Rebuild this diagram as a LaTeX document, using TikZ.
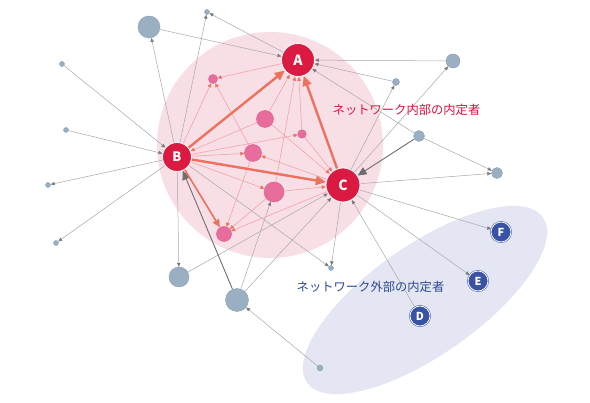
\documentclass[tikz,border=0pt]{standalone}
\usepackage{fontspec}
\setmainfont{Liberation Sans}
\newfontfamily\jp{Noto Sans CJK JP}
\usetikzlibrary{arrows.meta}
\pgfdeclarelayer{bg}
\pgfdeclarelayer{edges}
\pgfsetlayers{bg,edges,main}
\definecolor{redone}{HTML}{DA1A40}
\definecolor{pinkbg}{HTML}{F8DFE6}
\definecolor{bluebg}{HTML}{E4E7F3}
\definecolor{pinknode}{HTML}{E86C9C}
\definecolor{pinkstroke}{HTML}{DA5A8A}
\definecolor{graynode}{HTML}{9AB0C2}
\definecolor{graystroke}{HTML}{879EB2}
\definecolor{bluenode}{HTML}{3853A6}
\definecolor{edgegray}{HTML}{A8A8A8}
\definecolor{tipgray}{HTML}{7A7A7A}
\definecolor{edgepink}{HTML}{F2A3A6}
\definecolor{salmon}{HTML}{EC715F}
\definecolor{darkedge}{HTML}{6E6E6E}
\definecolor{redtext}{HTML}{D4163F}
\definecolor{bluetext}{HTML}{2E4994}
\tikzset{
  rn/.style={circle, fill=redone, draw=white, line width=0.8pt, inner sep=0pt, text=white, font=\jp\bfseries\fontsize{14}{14}\selectfont},
  pn/.style={circle, fill=pinknode, draw=pinkstroke, line width=0.4pt, inner sep=0pt},
  gn/.style={circle, fill=graynode, draw=graystroke, line width=0.4pt, inner sep=0pt},
  bn/.style={circle, fill=bluenode, draw=bluenode, double=white, double distance=0.8pt, line width=0.5pt, inner sep=0pt, minimum size=20pt, text=white, font=\jp\bfseries\fontsize{11}{11}\selectfont},
  ge/.style={draw=edgegray, line width=0.5pt, -{Triangle[length=4pt,width=3.4pt,color=tipgray]}},
  pe/.style={draw=edgepink, line width=0.6pt, -{Triangle[length=4pt,width=3.6pt,color=salmon]}},
  te/.style={draw=salmon, line width=2.4pt, -{Triangle[length=10pt,width=9pt]}},
  me/.style={draw=salmon, line width=1.6pt, -{Triangle[length=8pt,width=7pt]}},
  de/.style={draw=darkedge, line width=0.9pt, -{Triangle[length=9pt,width=8pt]}},
  lbl/.style={font=\jp\fontsize{12.3}{12.3}\selectfont, inner sep=0pt}
}
\begin{document}
\begin{tikzpicture}[x=1pt,y=-1pt]
\useasboundingbox (0,0) rectangle (590,403);
\begin{pgfonlayer}{bg}
  \fill[white] (0,0) rectangle (590,403);
  \fill[pinkbg] (270,145) circle[radius=113pt];
  \fill[bluebg, rotate around={35:(425,300)}] (425,300) ellipse[x radius=144pt, y radius=55pt];
\end{pgfonlayer}
% main nodes
\node[rn, minimum size=33pt] (A) at (298,60) {A};
\node[rn, minimum size=29pt, font=\jp\bfseries\fontsize{13}{13}\selectfont] (B) at (177,157) {B};
\node[rn, minimum size=34pt] (C) at (343,185) {C};
\node[bn] (D) at (420,316) {D};
\node[bn] (E) at (478,281) {E};
\node[bn] (F) at (501,232) {F};
% pink nodes
\node[pn, minimum size=9pt] (p1) at (213,79) {};
\node[pn, minimum size=17pt] (p2) at (265,119) {};
\node[pn, minimum size=8.5pt] (p3) at (302,134) {};
\node[pn, minimum size=17pt] (p4) at (253,153) {};
\node[pn, minimum size=20pt] (p5) at (274,192) {};
\node[pn, minimum size=15pt] (p6) at (224,234) {};
% gray nodes
\node[gn, minimum size=22pt] (g1) at (149,27) {};
\node[gn, minimum size=5pt] (g2) at (207,12) {};
\node[gn, minimum size=5pt] (g3) at (62,64) {};
\node[gn, minimum size=5pt] (g4) at (66,130) {};
\node[gn, minimum size=5pt] (g5) at (48,185) {};
\node[gn, minimum size=5pt] (g6) at (56,243) {};
\node[gn, minimum size=20pt] (g7) at (179,277) {};
\node[gn, minimum size=23pt] (g8) at (237,300) {};
\node[gn, minimum size=5pt] (g9) at (331,268) {};
\node[gn, minimum size=6pt] (g10) at (320,368) {};
\node[gn, minimum size=14pt] (g11) at (453,61) {};
\node[gn, minimum size=7pt] (g12) at (396,82) {};
\node[gn, minimum size=11pt] (g13) at (419,136) {};
\node[gn, minimum size=11pt] (g14) at (497,173) {};
% labels
\node[lbl, text=redtext] (lin) at (406.5,110) {ネットワーク内部の内定者};
\node[lbl, text=bluetext] (lout) at (370.5,287) {ネットワーク外部の内定者};
\begin{pgfonlayer}{edges}
  % gray edges
  \draw[ge] (g1) -- (A);
  \draw[ge] (A) -- (g2);
  \draw[ge] (B) -- (g1);
  \draw[ge] (B) -- (g2);
  \draw[ge] (g3) -- (B);
  \draw[ge] (g4) -- (B);
  \draw[ge] (B) -- (g5);
  \draw[ge] (B) -- (g6);
  \draw[ge] (B) -- (g7);
  \draw[ge] (g7) -- (C);
  \draw[ge] (g8) -- (p5);
  \draw[ge] (g8) -- (C);
  \draw[ge] (g10) -- (g8);
  \draw[ge] (B) -- (g9);
  \draw[ge] (C) -- (g9);
  \draw[ge] (C) -- (F);
  \draw[ge] (C) -- (E);
  \draw[ge] (D) -- (C);
  \draw[ge] (C) -- (g14);
  \draw[ge] (g13) -- (g14);
  \draw[ge] (g13) -- (A);
  \draw[ge] (g11) -- (A);
  \draw[ge] (g12) -- (A);
  \draw[ge] (C) -- (g11);
  \draw[ge] (C) -- (g12);
  % dark edges
  \draw[de] (g8) -- (B);
  \draw[de] (g13) -- (C);
  % pink edges
  \draw[pe] (A) -- (p1);
  \draw[pe] (B) -- (p1);
  \draw[pe] (p4) -- (p1);
  \draw[pe] (p2) -- (A);
  \draw[pe] (p5) -- (A);
  \draw[pe] (p3) -- (A);
  \draw[pe] (p2) -- (B);
  \draw[pe] (p2) -- (C);
  \draw[pe] (p3) -- (C);
  \draw[pe] (B) -- (p3);
  \draw[pe] (B) -- (p4);
  \draw[pe] (B) -- (p5);
  \draw[pe] (C) -- (p4);
  \draw[pe] (p5) -- (C);
  \draw[pe] (p4) -- (p6);
  \draw[pe] (p5) -- (p6);
  \draw[pe] (C) -- (p6);
  % thick edges
  \draw[te] (B) -- (A);
  \draw[te] (B) -- (C);
  \draw[te] (C) -- (A);
  \draw[me] (B) -- (p6);
\end{pgfonlayer}
\end{tikzpicture}
\end{document}
